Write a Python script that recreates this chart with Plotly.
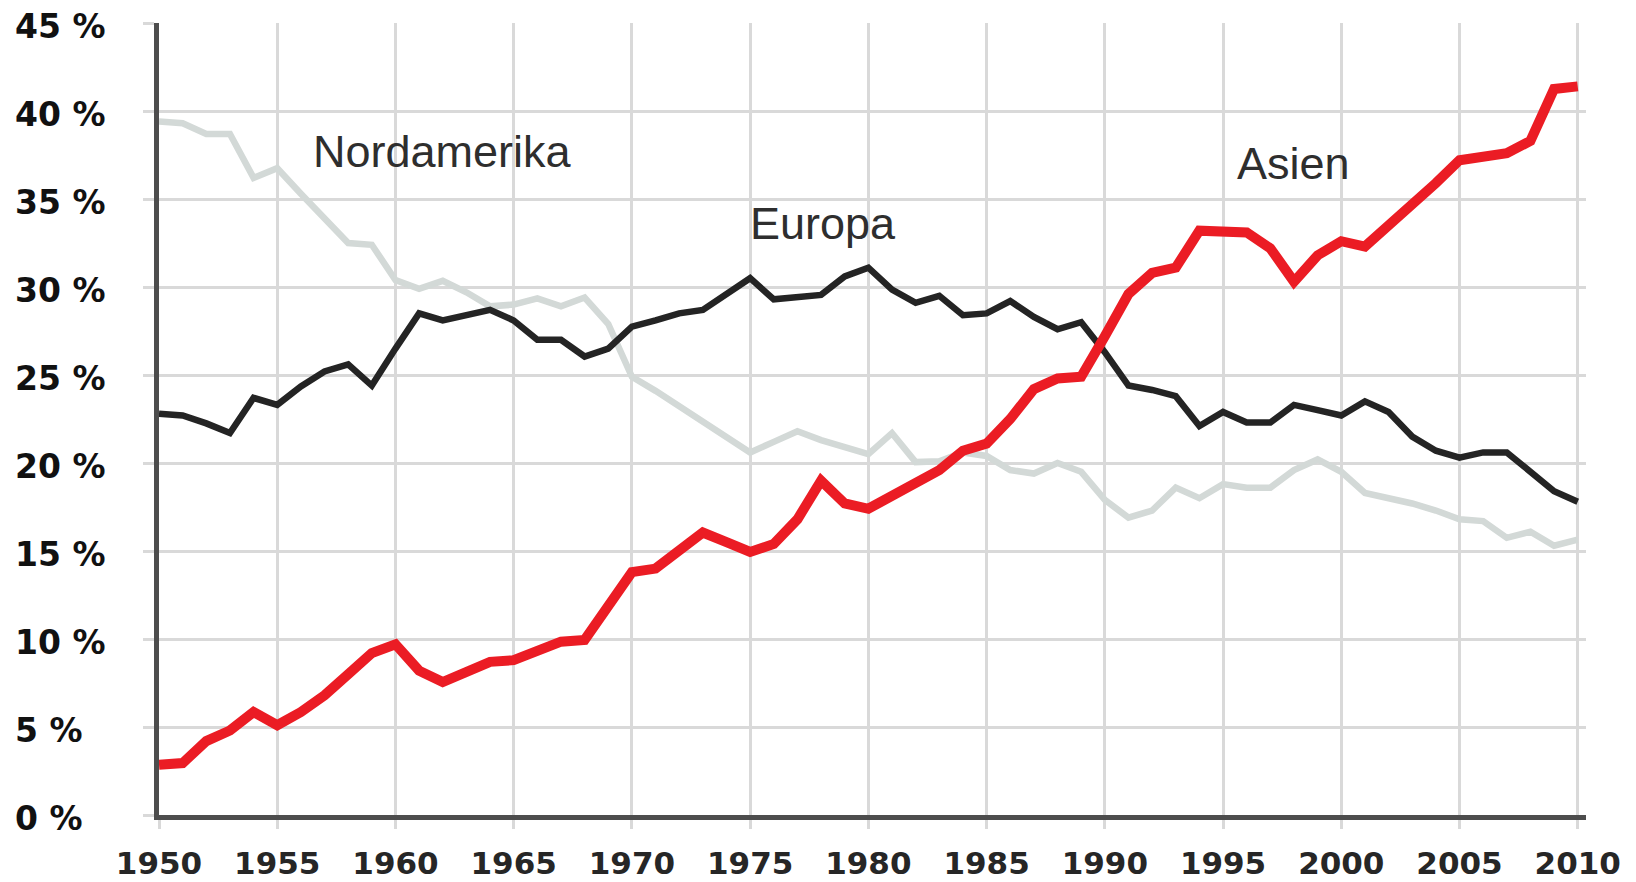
import plotly.graph_objects as go

years = list(range(1950, 2011))

asien = [2.85, 2.95, 4.2, 4.8, 5.85, 5.1, 5.85, 6.8, 8.0, 9.2,
         9.7, 8.2, 7.55, 8.1, 8.7, 8.8, 9.4, 9.85, 9.95, 11.9,
         13.8, 14.0, 15.0, 16.05, 15.5, 14.95, 15.4, 16.8, 19.0, 17.7,
         17.4, 18.1, 18.8, 19.6, 20.7, 21.1, 22.5, 24.2, 24.8, 24.9,
         27.2, 29.6, 30.8, 31.1, 33.2, 33.2, 33.1, 32.2, 30.3, 31.8,
         32.6, 32.3, 33.45, 34.7, 35.9, 37.2, 37.4, 37.6, 38.3, 41.25,
         41.4]

europa = [22.8, 22.7, 22.25, 21.7, 23.7, 23.3, 24.35, 25.2, 25.6, 24.4,
          26.5, 28.5, 28.1, 28.4, 28.7, 28.1, 27.0, 27.0, 26.05, 26.5,
          27.75, 28.1, 28.5, 28.7, 29.65, 30.5, 29.3, 29.4, 29.55, 30.6,
          31.1, 29.85, 29.1, 29.5, 28.4, 28.5, 29.2, 28.3, 27.6, 28.0,
          26.3, 24.4, 24.15, 23.8, 22.1, 22.9, 22.3, 22.3, 23.3, 23.0,
          22.7, 23.5, 22.9, 21.5, 20.7, 20.3, 20.6, 20.6, 19.5, 18.4,
          17.8]

nordamerika = [39.4, 39.3, 38.7, 38.7, 36.2, 36.75, 35.3, 33.9, 32.5, 32.4,
               30.4, 29.9, 30.35, 29.7, 28.9, 29.0, 29.35, 28.9, 29.4, 27.9,
               24.9, 24.1, 23.2, 22.3, 21.4, 20.6, 21.2, 21.8, 21.3, 20.9,
               20.5, 21.7, 20.05, 20.1, 20.6, 20.4, 19.6, 19.4, 20.0, 19.5,
               17.9, 16.9, 17.3, 18.6, 18.0, 18.8, 18.6, 18.6, 19.6, 20.2,
               19.5, 18.3, 18.0, 17.7, 17.3, 16.8, 16.7, 15.75, 16.1, 15.3,
               15.65]

y_ticks = [0, 5, 10, 15, 20, 25, 30, 35, 40, 45]
y_tick_labels = ["0 %", "5 %", "10 %", "15 %", "20 %", "25 %", "30 %", "35 %", "40 %", "45 %"]
x_ticks = list(range(1950, 2011, 5))
x_tick_labels = [str(v) for v in x_ticks]

series_labels = ["Nordamerika", "Europa", "Asien"]
label_pos = [(1962.0, 37.7), (1978.1, 33.6), (1998.0, 37.0)]

fig = go.Figure()
fig.add_trace(go.Scatter(x=years, y=nordamerika, mode="lines", name="Nordamerika",
                         line=dict(color="#D3D9D7", width=6.5)))
fig.add_trace(go.Scatter(x=years, y=europa, mode="lines", name="Europa",
                         line=dict(color="#242424", width=6.5)))
fig.add_trace(go.Scatter(x=years, y=asien, mode="lines", name="Asien",
                         line=dict(color="#EB1C24", width=10)))

for t, (lx, ly) in zip(series_labels, label_pos):
    fig.add_annotation(x=lx, y=ly, xref="x", yref="y", text=t, showarrow=False,
                       font=dict(family="Liberation Sans", size=45, color="#2e2e2e"),
                       xanchor="center", yanchor="middle")

for v, t in zip(y_ticks, y_tick_labels):
    fig.add_annotation(x=-0.1024, y=v, xref="paper", yref="y", text=t, showarrow=False,
                       font=dict(family="DejaVu Sans", size=33, color="#111111", weight="bold"),
                       xanchor="left", yanchor="middle", yshift=-3)

fig.update_layout(
    width=1636, height=882,
    margin=dict(l=159, r=50, t=23, b=67),
    paper_bgcolor="white", plot_bgcolor="white",
    showlegend=False,
)
fig.update_xaxes(
    range=[1950, 2010.35], tickvals=x_ticks, ticktext=x_tick_labels,
    showgrid=True, gridcolor="#D9D9D9", gridwidth=3,
    showline=True, linecolor="#4D4D4D", linewidth=5,
    ticks="outside", ticklen=9, tickcolor="#D9D9D9", tickwidth=3,
    tickfont=dict(family="DejaVu Sans", size=31, color="#262626", weight="bold"),
    ticklabelstandoff=8, zeroline=False, automargin=False,
)
fig.update_yaxes(
    range=[0, 45], tickvals=y_ticks, showticklabels=False,
    showgrid=True, gridcolor="#D9D9D9", gridwidth=3,
    showline=True, linecolor="#4D4D4D", linewidth=5,
    ticks="outside", ticklen=11, tickcolor="#D9D9D9", tickwidth=3,
    zeroline=False, automargin=False,
)

fig.write_html("out.html", post_script="document.body.style.margin='0';",
               config={"displayModeBar": False})
